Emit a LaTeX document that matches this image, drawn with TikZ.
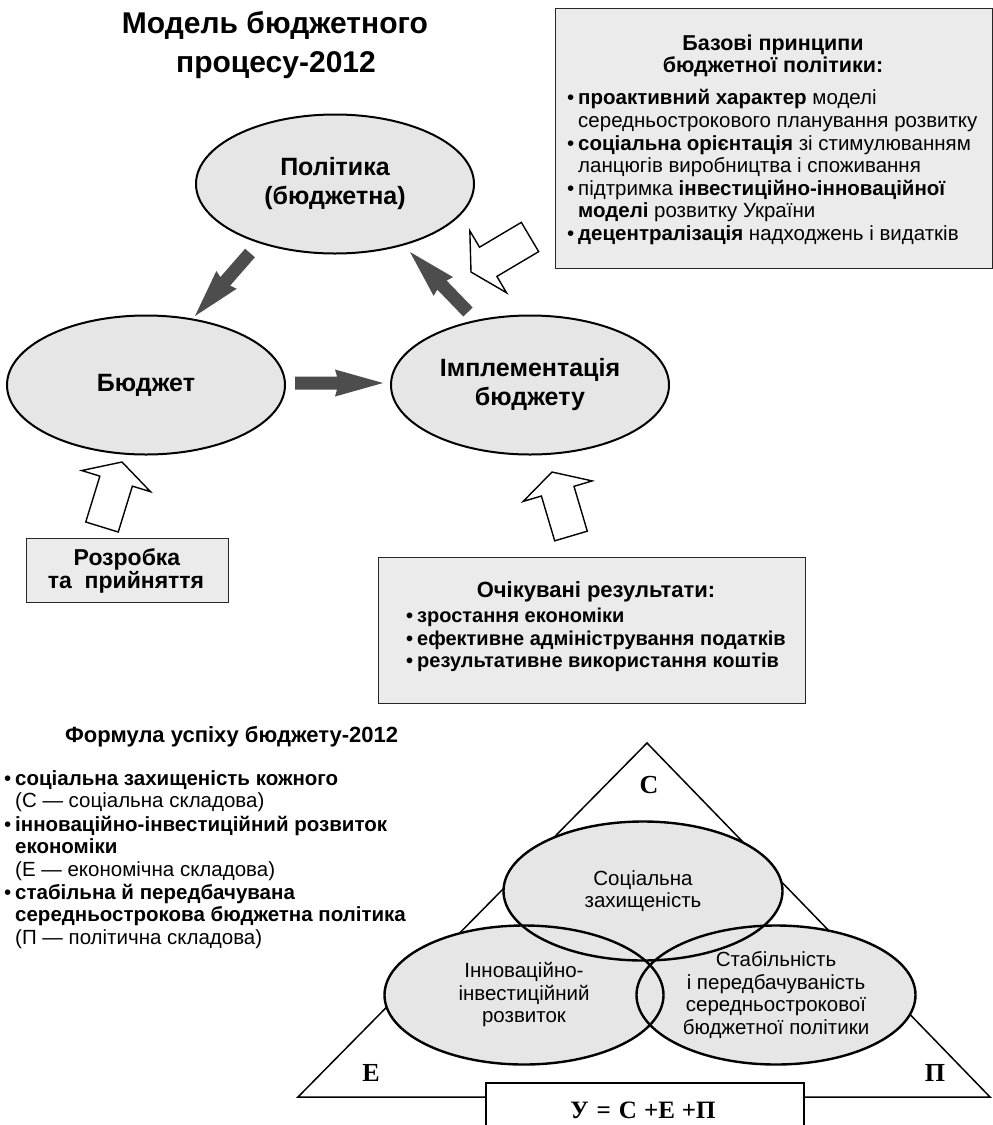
\documentclass[tikz,border=0pt]{standalone}
\usepackage{fontspec}
\setmainfont{Liberation Sans}
\newfontfamily\serifbold{Liberation Serif}
\usetikzlibrary{shapes.geometric,calc}
\definecolor{boxgray}{HTML}{EBEBEB}
\definecolor{ellgray}{HTML}{E6E6E6}
\definecolor{arrowgray}{HTML}{4D4D4D}
\newcommand{\fsz}[1]{\fontsize{#1}{#1}\selectfont}
\newcommand{\bul}{\llap{•\hspace{4pt}}}
% block arrow: style, tail, tip, shaft half width, head half width, head length, notch
\newcommand{\blockarrow}[7]{%
  \coordinate (ba-h) at ($(#3)!#6!(#2)$);
  \coordinate (ba-s) at ($(#3)!#6-#7!(#2)$);
  \path[#1] (#3) -- ($(ba-h)!#5!90:(#3)$) -- ($(ba-s)!#4!90:(#3)$) -- ($(#2)!#4!90:(#3)$)
    -- ($(#2)!#4!-90:(#3)$) -- ($(ba-s)!#4!-90:(#3)$) -- ($(ba-h)!#5!-90:(#3)$) -- cycle;
}
\begin{document}
\begin{tikzpicture}[x=1pt,y=-1pt,
  ell/.style={ellipse, fill=ellgray, draw=black, line width=2pt, inner sep=0pt, align=center,
    minimum width=278, minimum height=139, font=\fontsize{25}{29}\selectfont\bfseries},
  tell/.style={ellipse, fill=ellgray, inner sep=0pt, align=center,
    minimum width=279, minimum height=139, font=\fontsize{20.5}{22.5}\selectfont},
  box/.style={rectangle, draw=black!85, line width=1.3pt, fill=boxgray, inner sep=0pt, anchor=north west},
  txt/.style={anchor=base west, inner sep=0pt},
  ctxt/.style={anchor=base, inner sep=0pt},
  letter/.style={font=\serifbold\bfseries\fsz{26}, inner sep=0pt},
  darkarr/.style={fill=arrowgray, draw=none},
  hollowarr/.style={fill=white, draw=black, line width=1.4pt, line join=miter}]
\useasboundingbox (0,0) rectangle (993,1125);
\clip (0,0) rectangle (993,1125);

% ---------- title ----------
\node[ctxt, font=\fsz{30}\bfseries] (title1) at (275,33) {Модель бюджетного};
\node[ctxt, font=\fsz{30}\bfseries] (title2) at (276,72) {процесу-2012};

% ---------- principles box ----------
\node[box, minimum width=437, minimum height=260] (prin) at (555,8) {};
\node[ctxt, font=\fsz{21.5}\bfseries] (prinh1) at (773,50) {Базові принципи};
\node[ctxt, font=\fsz{21.5}\bfseries] (prinh2) at (773,72) {бюджетної політики:};
\node[txt, font=\fsz{20.5}] (pl1) at (578,104) {\bul\textbf{проактивний характер} моделі};
\node[txt, font=\fsz{20.5}] (pl2) at (578,127) {середньострокового планування розвитку};
\node[txt, font=\fsz{20.5}] (pl3) at (578,150) {\bul\textbf{соціальна орієнтація} зі стимулюванням};
\node[txt, font=\fsz{20.5}] (pl4) at (578,172) {ланцюгів виробництва і споживання};
\node[txt, font=\fsz{20.5}] (pl5) at (578,195) {\bul підтримка \textbf{інвестиційно-інноваційної}};
\node[txt, font=\fsz{20.5}] (pl6) at (578,217) {\textbf{моделі} розвитку України};
\node[txt, font=\fsz{20.5}] (pl7) at (578,240) {\bul\textbf{децентралізація} надходжень і видатків};

% ---------- cycle ellipses ----------
\node[ell] (pol) at (335,184) {Політика\\(бюджетна)};
\node[ell] (bud) at (146,385) {Бюджет};
\node[ell] (imp) at (530,385) {Імплементація\\бюджету};

% ---------- dark arrows ----------
\coordinate (d1a) at (250,253); \coordinate (d1b) at (195,316);
\coordinate (d2a) at (295,383); \coordinate (d2b) at (383,383);
\coordinate (d3a) at (468,312); \coordinate (d3b) at (410,252);
\blockarrow{darkarr}{d1a}{d1b}{6.5pt}{13.5pt}{48pt}{2pt}
\blockarrow{darkarr}{d2a}{d2b}{6.5pt}{13.5pt}{48pt}{2pt}
\blockarrow{darkarr}{d3a}{d3b}{6.5pt}{13.5pt}{48pt}{2pt}

% ---------- lower boxes ----------
\node[box, minimum width=202, minimum height=64] (dev) at (26,538) {};
\node[ctxt, font=\fsz{23}\bfseries] (dev1) at (127,565) {Розробка};
\node[ctxt, font=\fsz{23}\bfseries] (dev2) at (126,588) {та\ \ прийняття};

\node[box, minimum width=427, minimum height=146] (res) at (378,557) {};
\node[ctxt, font=\fsz{22}\bfseries] (resh) at (596,597) {Очікувані результати:};
\node[txt, font=\fsz{20}\bfseries] (r1) at (417,622) {\bul зростання економіки};
\node[txt, font=\fsz{20}\bfseries] (r2) at (417,645) {\bul ефективне адміністрування податків};
\node[txt, font=\fsz{20}\bfseries] (r3) at (417,667) {\bul результативне використання коштів};

% ---------- hollow arrows ----------
\coordinate (h1a) at (102,527); \coordinate (h1b) at (122,462);
\coordinate (h2a) at (571,536); \coordinate (h2b) at (552,472);
\coordinate (h3a) at (530,237); \coordinate (h3b) at (471,272);
\blockarrow{hollowarr}{h1a}{h1b}{17pt}{36pt}{20pt}{0pt}
\blockarrow{hollowarr}{h2a}{h2b}{17pt}{36pt}{20pt}{0pt}
\blockarrow{hollowarr}{h3a}{h3b}{17pt}{36pt}{20pt}{0pt}

% ---------- formula text ----------
\node[txt, font=\fsz{22}\bfseries] (fh) at (65,742) {Формула успіху бюджету-2012};
\node[txt, font=\fsz{20.5}] (f1) at (15,785) {\bul\textbf{соціальна захищеність кожного}};
\node[txt, font=\fsz{20.5}] (f2) at (15,807) {(С — соціальна складова)};
\node[txt, font=\fsz{20.5}] (f3) at (15,831) {\bul\textbf{інноваційно-інвестиційний розвиток}};
\node[txt, font=\fsz{20.5}] (f4) at (15,853) {\textbf{економіки}};
\node[txt, font=\fsz{20.5}] (f5) at (15,876) {(Е — економічна складова)};
\node[txt, font=\fsz{20.5}] (f6) at (15,899) {\bul\textbf{стабільна й передбачувана}};
\node[txt, font=\fsz{20.5}] (f7) at (15,921) {\textbf{середньострокова бюджетна політика}};
\node[txt, font=\fsz{20.5}] (f8) at (15,944) {(П — політична складова)};

% ---------- triangle ----------
\coordinate (ta) at (647,743); \coordinate (tl) at (298,1097); \coordinate (tr) at (990,1097);
\draw[line width=1.5pt, line join=miter] (ta) -- (tl) -- (tr) -- cycle;
\node[letter] (lc) at (649,785) {С};
\node[letter] (le) at (371,1073) {Е};
\node[letter] (lp) at (935,1073) {П};

\node[tell] (soc) at (643,891) {Соціальна\\захищеність};
\node[tell] (inn) at (524,995) {Інноваційно-\\інвестиційний\\розвиток};
\node[tell] (sta) at (776,995) {Стабільність\\і передбачуваність\\середньострокової\\бюджетної політики};
\draw[line width=2.4pt] (soc.center) ellipse [x radius=139.5, y radius=69.5];
\draw[line width=2.4pt] (inn.center) ellipse [x radius=139.5, y radius=69.5];
\draw[line width=2.4pt] (sta.center) ellipse [x radius=139.5, y radius=69.5];

\node[draw=black, line width=1.5pt, fill=white, anchor=north west, inner sep=0pt,
  minimum width=318, minimum height=80] (fbox) at (485,1082) {};
\node[ctxt, font=\serifbold\bfseries\fsz{25}] (form) at (643,1118) {У\hspace{8pt}=\hspace{8pt}С\hspace{7pt}+Е\hspace{7pt}+П};
\end{tikzpicture}
\end{document}
